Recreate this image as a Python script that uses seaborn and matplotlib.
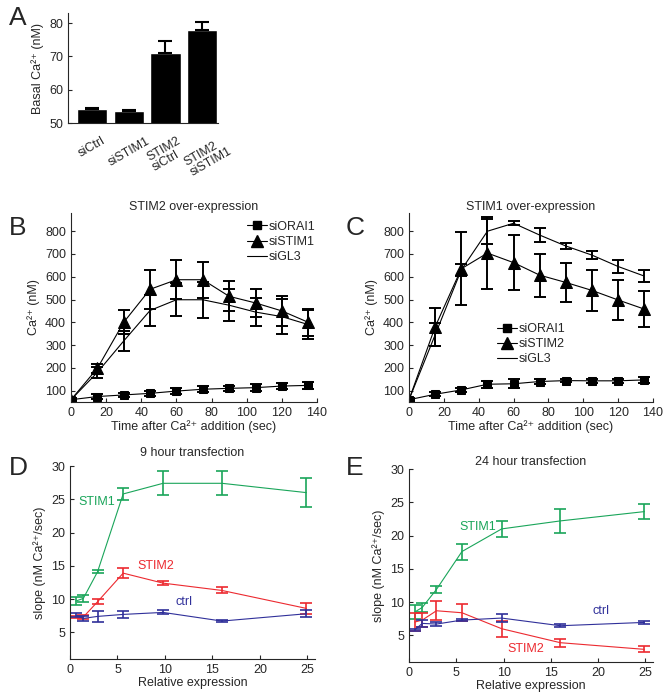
import numpy as np
import pandas as pd
import matplotlib
matplotlib.use("Agg")
import matplotlib.pyplot as plt
import matplotlib.transforms as mtransforms
import seaborn as sns
from matplotlib.lines import Line2D

sns.set_style("ticks")
plt.rcParams['font.family'] = ['Liberation Sans', 'DejaVu Sans']

CA = "Ca\u00b2\u207a"

# ---------------- data ----------------
# Panel A
a_categories = ["siCtrl", "siSTIM1", "STIM2\nsiCtrl", "STIM2\nsiSTIM1"]
a_values = [54.2, 53.7, 70.9, 77.8]
a_err = [0.3, 0.3, 3.7, 2.6]

# Panels B, C
time_s = [0, 15, 30, 45, 60, 75, 90, 105, 120, 135]
b_orai1 = [60, 74, 81, 88, 98, 106, 110, 113, 120, 123]
b_orai1_err = [8, 10, 10, 12, 13, 14, 12, 14, 15, 15]
b_stim1 = [60, 198, 400, 545, 587, 587, 514, 485, 450, 400]
b_stim1_err = [5, 20, 52, 85, 85, 80, 66, 60, 65, 60]
b_gl3 = [60, 180, 318, 452, 499, 499, 475, 445, 425, 390]
b_gl3_err = [5, 25, 42, 68, 72, 80, 70, 60, 78, 65]

c_orai1 = [60, 84, 103, 128, 130, 140, 144, 143, 143, 147]
c_orai1_err = [8, 8, 8, 15, 20, 12, 8, 8, 8, 12]
c_stim2 = [60, 380, 635, 704, 662, 607, 575, 540, 498, 458]
c_stim2_err = [5, 85, 160, 157, 120, 95, 85, 90, 88, 80]
c_gl3 = [60, 345, 630, 800, 835, 783, 735, 695, 645, 603]
c_gl3_err = [5, 50, 25, 55, 8, 30, 15, 18, 30, 28]

# Panels D, E
rel_expr = [0.6, 1.4, 2.9, 5.6, 9.8, 16.0, 24.9]
d_stim1 = [9.7, 10.1, 14.1, 25.8, 27.4, 27.4, 26.0]
d_stim1_err = [0.6, 0.5, 0.2, 0.95, 1.8, 1.8, 2.2]
d_stim2 = [7.3, 7.3, 9.6, 13.9, 12.4, 11.3, 8.6]
d_stim2_err = [0.2, 0.3, 0.4, 0.75, 0.3, 0.45, 0.8]
d_ctrl = [7.6, 7.1, 7.4, 7.7, 8.0, 6.7, 7.8]
d_ctrl_err = [0.3, 0.4, 0.8, 0.5, 0.3, 0.1, 0.5]

e_stim1 = [8.5, 9.2, 11.9, 17.6, 21.0, 22.2, 23.6]
e_stim1_err = [1.1, 0.7, 0.55, 1.2, 1.25, 1.8, 1.1]
e_stim2 = [7.0, 7.3, 8.7, 8.4, 6.0, 3.9, 2.9]
e_stim2_err = [1.3, 1.0, 1.4, 1.3, 1.2, 0.6, 0.45]
e_ctrl = [5.8, 6.8, 6.7, 7.3, 7.6, 6.45, 6.95]
e_ctrl_err = [0.2, 0.5, 0.3, 0.2, 0.6, 0.25, 0.2]

GREEN = "#1aa55a"
RED = "#ec2a30"
BLUE = "#30309a"
FS = 9

fig = plt.figure(figsize=(6.72, 6.96), dpi=100)

def style(ax):
    sns.despine(ax=ax)
    ax.tick_params(direction='in', length=3, labelsize=FS, width=0.8)
    for s in ['left', 'bottom']:
        ax.spines[s].set_linewidth(0.8)

# ---------------- Panel A ----------------
axA = fig.add_axes([68/672, 1-123/696, 150/672, 110/696])
dfA = pd.DataFrame({"cond": a_categories, "val": a_values})
sns.barplot(data=dfA, x="cond", y="val", color="black", width=0.82,
            errorbar=None, ax=axA, saturation=1)
axA.errorbar(range(len(a_values)), a_values, yerr=[np.zeros(4), a_err],
             fmt='none', ecolor='black', elinewidth=1.5, capsize=5, capthick=1.5)
axA.set_ylim(50, 83)
axA.set_xlim(-0.65, 3.43)
axA.set_yticks([50, 60, 70, 80])
axA.set_xlabel("")
axA.set_ylabel("Basal " + CA + " (nM)", fontsize=FS)
style(axA)
axA.set_xticks(range(4))
axA.set_xticklabels(a_categories, rotation=30, ha='center', va='top',
                    multialignment='left', fontsize=FS, linespacing=0.95)
axA.tick_params(axis='x', length=0, pad=7)
for i, lab in enumerate(axA.get_xticklabels()):
    dx = [0, 0, 1, 6][i]
    lab.set_transform(lab.get_transform() +
                      mtransforms.ScaledTranslation(dx/100, -2/100, fig.dpi_scale_trans))

# ---------------- Panels B, C ----------------
def ca_panel(rect, o, oe, s, se, g, ge, s_label, title, leg_loc):
    ax = fig.add_axes(rect)
    sns.lineplot(x=time_s, y=g, color='black', linewidth=0.8, ax=ax)
    sns.lineplot(x=time_s, y=s, color='black', linewidth=0.8, marker='^',
                 markersize=8, markeredgecolor='black', ax=ax)
    sns.lineplot(x=time_s, y=o, color='black', linewidth=0.8, marker='s',
                 markersize=6, markeredgecolor='black', ax=ax)
    for y, e in [(g, ge), (s, se), (o, oe)]:
        ax.errorbar(time_s, y, yerr=e, fmt='none', ecolor='black',
                    elinewidth=1.4, capsize=4, capthick=1.4)
    ax.set_xlim(0, 140)
    ax.set_ylim(50, 880)
    ax.set_xticks(range(0, 141, 20))
    ax.set_yticks(range(100, 801, 100))
    ax.set_xlabel("Time after " + CA + " addition (sec)", fontsize=FS, labelpad=1)
    ax.set_ylabel(CA + " (nM)", fontsize=FS)
    ax.set_title(title, fontsize=FS, pad=1)
    style(ax)
    handles = [Line2D([], [], color='black', lw=0.8, marker='s', markersize=6),
               Line2D([], [], color='black', lw=0.8, marker='^', markersize=8),
               Line2D([], [], color='black', lw=0.8)]
    ax.legend(handles, ["siORAI1", s_label, "siGL3"], frameon=False,
              fontsize=FS, handlelength=1.6, handletextpad=0.1,
              labelspacing=0.25, loc='upper left', bbox_to_anchor=leg_loc,
              borderaxespad=0)
    return ax

axB = ca_panel([71/672, 1-402/696, 246/672, 189/696],
               b_orai1, b_orai1_err, b_stim1, b_stim1_err, b_gl3, b_gl3_err,
               "siSTIM1", "STIM2 over-expression", (0.695, 0.985))
axC = ca_panel([409/672, 1-402/696, 244/672, 189/696],
               c_orai1, c_orai1_err, c_stim2, c_stim2_err, c_gl3, c_gl3_err,
               "siSTIM2", "STIM1 over-expression", (0.34, 0.445))

# ---------------- Panels D, E ----------------
def slope_panel(rect, series, title, labels, tpad):
    ax = fig.add_axes(rect)
    for y, e, c in series:
        sns.lineplot(x=rel_expr, y=y, color=c, linewidth=0.8, ax=ax)
        ax.errorbar(rel_expr, y, yerr=e, fmt='none', ecolor=c,
                    elinewidth=1.2, capsize=4, capthick=1.2)
    ax.set_xlim(0, 25.8)
    ax.set_ylim(1, 30)
    ax.set_xticks(range(0, 26, 5))
    ax.set_yticks(range(5, 31, 5))
    ax.set_xlabel("Relative expression", fontsize=FS, labelpad=1)
    ax.set_ylabel("slope (nM " + CA + "/sec)", fontsize=FS)
    ax.set_title(title, fontsize=FS, pad=tpad)
    style(ax)
    for txt, x, y, c in labels:
        ax.text(x, y, txt, color=c, fontsize=FS, ha='center', va='center')
    return ax

axD = slope_panel([70/672, 1-659/696, 245/672, 193/696],
                  [(d_stim1, d_stim1_err, GREEN), (d_stim2, d_stim2_err, RED),
                   (d_ctrl, d_ctrl_err, BLUE)],
                  "9 hour transfection",
                  [("STIM1", 2.8, 24.6, GREEN), ("STIM2", 9.0, 14.9, RED),
                   ("ctrl", 12.0, 9.6, BLUE)], 7)
axE = slope_panel([409/672, 1-662/696, 244/672, 193/696],
                  [(e_stim1, e_stim1_err, GREEN), (e_stim2, e_stim2_err, RED),
                   (e_ctrl, e_ctrl_err, BLUE)],
                  "24 hour transfection",
                  [("STIM1", 7.3, 21.3, GREEN), ("ctrl", 20.3, 8.7, BLUE),
                   ("STIM2", 12.3, 2.9, RED)], 3)

# panel letters
for lbl, x, y in [("A", 18, 18), ("B", 18, 228), ("C", 355, 228),
                  ("D", 18, 468), ("E", 355, 468)]:
    fig.text(x/672, 1-y/696, lbl, fontsize=19, ha='center', va='center')

fig.savefig("out.png", dpi=100)
